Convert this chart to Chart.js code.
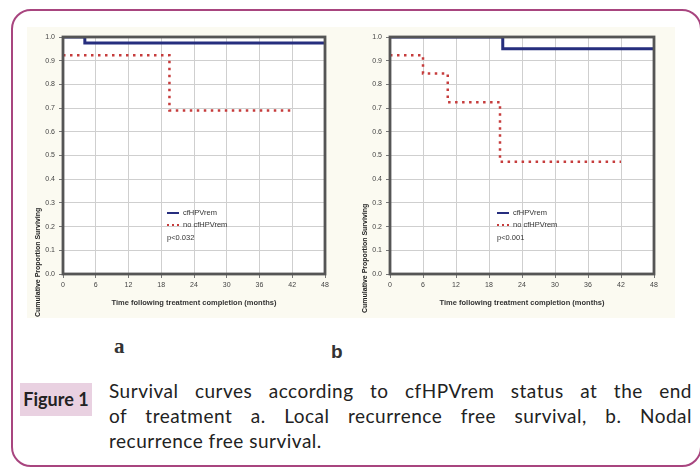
<!DOCTYPE html>
<html><head><meta charset="utf-8">
<script src="https://cdn.jsdelivr.net/npm/chart.js@4"></script>
<style>
html,body{margin:0;padding:0;background:#fff;}
body{width:700px;height:468px;position:relative;overflow:hidden;font-family:"Lato",sans-serif;}
#frame{position:absolute;left:11px;top:9px;width:691px;height:458px;border:2px solid #a8457f;border-radius:20px;box-sizing:border-box;}
#img{position:absolute;left:27px;top:27px;width:648px;height:291px;background:#fbfaf1;}
#ca{position:absolute;left:27px;top:27px;width:318px;height:293px;}
#cb{position:absolute;left:345px;top:27px;width:330px;height:293px;}
.lab{position:absolute;color:#333;}
#la{left:114px;top:334px;font:bold 21px "Liberation Serif",serif;}
#lb{left:331px;top:341px;font:bold 19px "Liberation Sans",sans-serif;}
#badge{position:absolute;left:20px;top:383px;width:72px;height:33px;background:#e9d1e1;font-weight:bold;font-size:18px;color:#222;text-align:center;line-height:33px;}
#cap{position:absolute;left:109px;top:378px;width:583px;font-size:19px;letter-spacing:0.5px;line-height:25px;color:#222;}
#cap .j{text-align:justify;text-align-last:justify;}
</style>
</head><body>
<div id="frame"></div>
<div id="img"></div>
<canvas id="ca" width="318" height="293"></canvas>
<canvas id="cb" width="330" height="293"></canvas>
<div class="lab" id="la">a</div>
<div class="lab" id="lb">b</div>
<div id="badge">Figure 1</div>
<div id="cap">
<div class="j">Survival curves according to cfHPVrem status at the end</div>
<div class="j">of treatment a. Local recurrence free survival, b. Nodal</div>
<div>recurrence free survival.</div>
</div>
<script>
// ---- data ----
const xTicks = [0, 6, 12, 18, 24, 30, 36, 42, 48];
const yTicks = [0.0, 0.1, 0.2, 0.3, 0.4, 0.5, 0.6, 0.7, 0.8, 0.9, 1.0];
const seriesNames = ['cfHPVrem', 'no cfHPVrem'];
// panel a: local recurrence free survival
const aCfTime = [0, 4, 48];
const aCfSurv = [1.0, 0.975, 0.975];
const aNoTime = [0, 19.5, 42];
const aNoSurv = [0.923, 0.69, 0.69];
// panel b: nodal recurrence free survival
const bCfTime = [0, 20.5, 48];
const bCfSurv = [1.0, 0.95, 0.95];
const bNoTime = [0, 6, 10.5, 20, 42];
const bNoSurv = [0.923, 0.846, 0.725, 0.474, 0.474];
const pValues = ['p<0.032', 'p<0.001'];
const xTitle = 'Time following treatment completion (months)';
const yTitle = 'Cumulative Proportion Surviving';

const BLUE = '#262e7e', RED = '#c63c3c';
const pts = (t, s) => t.map((v, i) => ({x: v, y: s[i]}));

const deco = {
  id: 'deco',
  beforeDraw(chart) {
    const {ctx, chartArea: a} = chart;
    ctx.save();
    ctx.fillStyle = '#ffffff';
    ctx.fillRect(a.left, a.top, a.right - a.left, a.bottom - a.top);
    ctx.restore();
  },
  afterDraw(chart, args, o) {
    const {ctx, chartArea: a} = chart;
    ctx.save();
    // frame
    ctx.strokeStyle = '#555555';
    ctx.lineWidth = 2.8;
    ctx.strokeRect(a.left, a.top, a.right - a.left, a.bottom - a.top);
    // legend
    const x0 = a.left + o.legX, y0 = a.top + o.legY;
    ctx.lineWidth = 2;
    ctx.strokeStyle = BLUE;
    ctx.beginPath(); ctx.moveTo(x0, y0); ctx.lineTo(x0 + 12, y0); ctx.stroke();
    ctx.strokeStyle = RED;
    ctx.setLineDash([2, 3]);
    ctx.beginPath(); ctx.moveTo(x0, y0 + 12); ctx.lineTo(x0 + 12, y0 + 12); ctx.stroke();
    ctx.setLineDash([]);
    ctx.fillStyle = '#333';
    ctx.font = '7.5px "Liberation Sans", Arial, sans-serif';
    ctx.textBaseline = 'middle';
    ctx.textAlign = 'left';
    ctx.fillText(seriesNames[0], x0 + 16, y0);
    ctx.fillText(seriesNames[1], x0 + 16, y0 + 12);
    ctx.fillText(o.p, x0, y0 + 25);
    // x title
    ctx.font = 'bold 7.5px "Liberation Sans", Arial, sans-serif';
    ctx.textAlign = 'center';
    ctx.fillText(xTitle, (a.left + a.right) / 2, a.bottom + 29);
    // y title
    ctx.translate(o.yTitleX, o.yTitleBottom);
    ctx.rotate(-Math.PI / 2);
    ctx.fillStyle = '#222';
    ctx.font = 'bold 7px "Liberation Sans", Arial, sans-serif';
    ctx.textAlign = 'left';
    ctx.fillText(yTitle, 0, 0);
    ctx.restore();
  }
};

function makeChart(id, cfT, cfS, noT, noS, cfg) {
  return new Chart(document.getElementById(id), {
    type: 'line',
    data: {
      datasets: [
        {label: seriesNames[0], data: pts(cfT, cfS), stepped: 'before', borderColor: BLUE, borderWidth: 3, pointRadius: 0, fill: false},
        {label: seriesNames[1], data: pts(noT, noS), stepped: 'before', borderColor: RED, borderWidth: 2.5, borderDash: [2.5, 4.5], pointRadius: 0, fill: false}
      ]
    },
    options: {
      responsive: false,
      animation: false,
      layout: {padding: {left: 0, right: cfg.padRight, top: 10, bottom: 0}},
      plugins: {legend: {display: false}, tooltip: {enabled: false}, deco: cfg.deco},
      scales: {
        x: {
          type: 'linear', min: 0, max: 48,
          afterBuildTicks: s => { s.ticks = xTicks.map(v => ({value: v})); },
          afterFit: s => { s.height = 46; },
          grid: {color: '#cfcfcf', lineWidth: 1, tickLength: 4, tickColor: '#777'},
          border: {display: false},
          ticks: {color: '#444', font: {size: 7, family: '"Liberation Sans", Arial'}, padding: 3, maxRotation: 0, callback: v => String(v)}
        },
        y: {
          type: 'linear', min: 0, max: 1,
          afterBuildTicks: s => { s.ticks = yTicks.map(v => ({value: v})); },
          afterFit: s => { s.width = cfg.yWidth; },
          grid: {color: '#cfcfcf', lineWidth: 1, tickLength: 4, tickColor: '#777'},
          border: {display: false},
          ticks: {color: '#444', font: {size: 7, family: '"Liberation Sans", Arial'}, padding: 4, callback: v => Number(v).toFixed(1)}
        }
      }
    },
    plugins: [deco]
  });
}

makeChart('ca', aCfTime, aCfSurv, aNoTime, aNoSurv, {
  padRight: 20, yWidth: 36,
  deco: {legX: 104, legY: 176, p: pValues[0], yTitleX: 11, yTitleBottom: 290}
});
makeChart('cb', bCfTime, bCfSurv, bNoTime, bNoSurv, {
  padRight: 21, yWidth: 45,
  deco: {legX: 107, legY: 176, p: pValues[1], yTitleX: 20, yTitleBottom: 286}
});
</script>
</body></html>
